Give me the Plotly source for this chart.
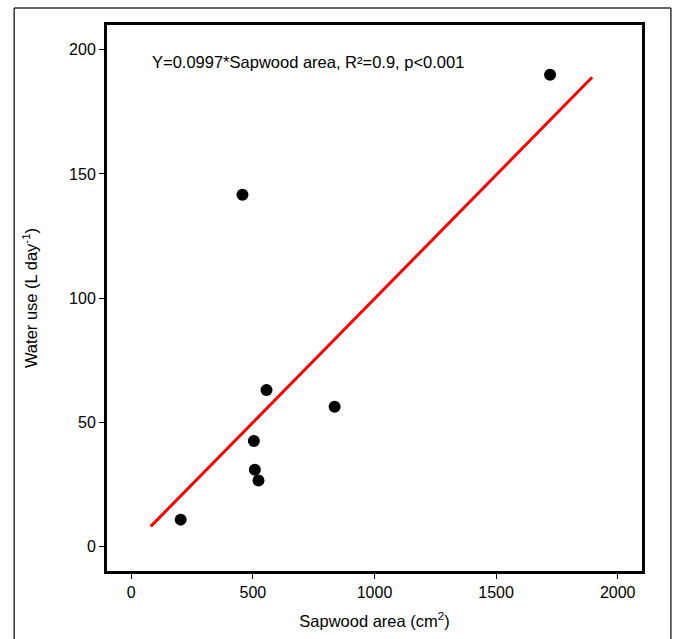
import plotly.graph_objects as go

# sapwood area (cm2) vs daily water use (L/day)
sapwood_area = [203, 457, 504, 508, 523, 556, 836, 1722]
water_use = [10.7, 141.6, 42.4, 30.8, 26.5, 62.9, 56.2, 190.0]

fit_x = [80, 1895]
slope = 0.0997
fit_y = [slope * v for v in fit_x]

x_ticks = [0, 500, 1000, 1500, 2000]
y_ticks = [0, 50, 100, 150, 200]

font_name = "Liberation Sans Narrow, Liberation Sans, Arial"

fig = go.Figure()
fig.add_trace(go.Scatter(x=fit_x, y=fit_y, mode="lines",
                         line=dict(color="#ff0000", width=3), showlegend=False))
fig.add_trace(go.Scatter(x=sapwood_area, y=water_use, mode="markers",
                         marker=dict(color="black", size=12), showlegend=False))

fig.update_layout(
    width=675, height=639,
    margin=dict(l=107, r=33, t=25, b=68, autoexpand=False),
    plot_bgcolor="white", paper_bgcolor="white",
    font=dict(family=font_name, size=16, color="black"),
    showlegend=False,
)
fig.update_xaxes(
    range=[-100, 2100], tickvals=x_ticks, ticks="outside", ticklen=5,
    tickcolor="black", showgrid=False, zeroline=False, automargin=False,
    showline=True, linecolor="black", linewidth=3, mirror=True,
    title=dict(text="Sapwood area (cm<sup>2</sup>)", standoff=16, font=dict(size=16.5)),
)
fig.update_yaxes(
    range=[-10, 210], tickvals=y_ticks, ticks="outside", ticklen=5,
    tickcolor="black", showgrid=False, zeroline=False, automargin=False,
    showline=True, linecolor="black", linewidth=3, mirror=True,
    title=dict(text="Water use (L day<sup>-1</sup>)", standoff=28, font=dict(size=16.5)),
)

fig.add_annotation(text="Y=0.0997*Sapwood area, R²=0.9, p<0.001",
                   xref="x", yref="y", x=75, y=195, xanchor="left",
                   showarrow=False, font=dict(size=16.5))

# outer frame around the figure
frame = dict(color="#333333", width=1.5)
fig.add_shape(type="line", xref="paper", yref="paper", x0=-0.1735, x1=-0.1735,
              y0=1.031, y1=-0.2, line=frame)
fig.add_shape(type="line", xref="paper", yref="paper", x0=-0.1735, x1=1.054,
              y0=1.031, y1=1.031, line=frame)
fig.add_shape(type="line", xref="paper", yref="paper", x0=1.054, x1=1.054,
              y0=1.031, y1=-0.2, line=frame)

# drop the default 8px page margin so the figure sits at the window corner
fig.write_html("out.html", config={"displayModeBar": False},
               post_script="document.body.style.margin='0';")
